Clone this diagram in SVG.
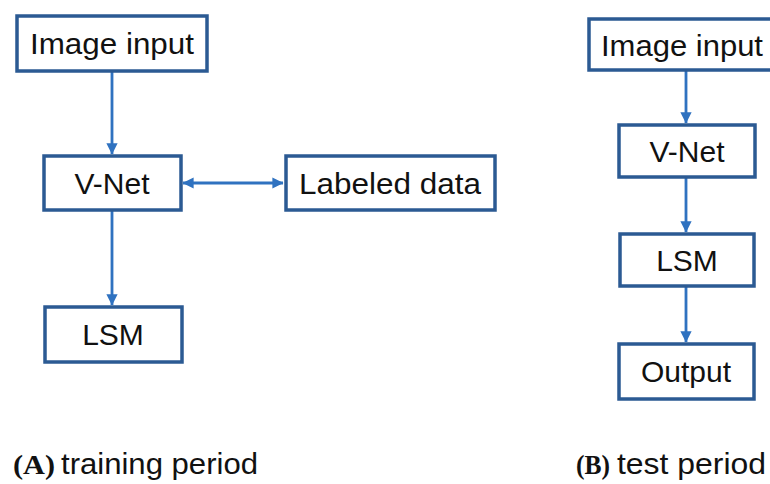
<svg xmlns="http://www.w3.org/2000/svg" width="770" height="484" viewBox="0 0 770 484">
  <defs>
    <style>
      .box { fill: #ffffff; stroke: #2b5a93; stroke-width: 3.5; }
      .lbl { font-family: "Liberation Sans", Arial, sans-serif; font-size: 30px; fill: #111111; text-anchor: middle; }
      .link { stroke: #2f72c0; stroke-width: 2.8; fill: none; }
      .tag { font-family: "Liberation Serif", "Times New Roman", serif; font-weight: bold; font-size: 28px; fill: #111111; }
      .cap { font-family: "Liberation Sans Narrow", "Liberation Sans", Arial, sans-serif; font-size: 29px; fill: #111111; }
    </style>
    <marker id="arr" viewBox="0 0 10 10" refX="9.5" refY="5" markerWidth="4" markerHeight="4" orient="auto-start-reverse" markerUnits="strokeWidth">
      <path d="M0,0 L10,5 L0,10 Z" fill="#2f72c0"/>
    </marker>
  </defs>

  <!-- connectors -->
  <g id="connectors">
    <line class="link" x1="112" y1="72" x2="112" y2="154" marker-end="url(#arr)"/>
    <line class="link" x1="112" y1="211" x2="112" y2="305" marker-end="url(#arr)"/>
    <line class="link" x1="183" y1="183" x2="283" y2="183" marker-start="url(#arr)" marker-end="url(#arr)"/>
    <line class="link" x1="686" y1="71" x2="686" y2="123" marker-end="url(#arr)"/>
    <line class="link" x1="686" y1="178" x2="686" y2="232" marker-end="url(#arr)"/>
    <line class="link" x1="686" y1="287" x2="686" y2="342" marker-end="url(#arr)"/>
  </g>

  <!-- training pipeline -->
  <g id="a-image-input">
    <rect class="box" x="17" y="16" width="190" height="55"/>
    <text class="lbl" x="112" y="54" textLength="164" lengthAdjust="spacingAndGlyphs">Image input</text>
  </g>
  <g id="a-vnet">
    <rect class="box" x="44" y="156" width="137" height="54"/>
    <text class="lbl" x="112" y="194">V-Net</text>
  </g>
  <g id="a-labeled-data">
    <rect class="box" x="286" y="156" width="209" height="54"/>
    <text class="lbl" x="390" y="194" textLength="182" lengthAdjust="spacingAndGlyphs">Labeled data</text>
  </g>
  <g id="a-lsm">
    <rect class="box" x="45" y="307" width="137" height="55"/>
    <text class="lbl" x="113" y="345">LSM</text>
  </g>

  <!-- test pipeline -->
  <g id="b-image-input">
    <rect class="box" x="589" y="19" width="190" height="51"/>
    <text class="lbl" x="682" y="56" textLength="162" lengthAdjust="spacingAndGlyphs">Image input</text>
  </g>
  <g id="b-vnet">
    <rect class="box" x="619" y="125" width="136" height="52"/>
    <text class="lbl" x="687" y="162">V-Net</text>
  </g>
  <g id="b-lsm">
    <rect class="box" x="620" y="234" width="134" height="52"/>
    <text class="lbl" x="687" y="271">LSM</text>
  </g>
  <g id="b-output">
    <rect class="box" x="619" y="344" width="135" height="55"/>
    <text class="lbl" x="686" y="382">Output</text>
  </g>

  <!-- captions -->
  <g id="captions">
    <text class="tag" x="13" y="474" textLength="42" lengthAdjust="spacingAndGlyphs">(A)</text>
    <text class="cap" x="61" y="474" textLength="197" lengthAdjust="spacingAndGlyphs">training period</text>
    <text class="tag" x="576" y="474" textLength="34" lengthAdjust="spacingAndGlyphs">(B)</text>
    <text class="cap" x="617" y="474" textLength="149" lengthAdjust="spacingAndGlyphs">test period</text>
  </g>
</svg>
